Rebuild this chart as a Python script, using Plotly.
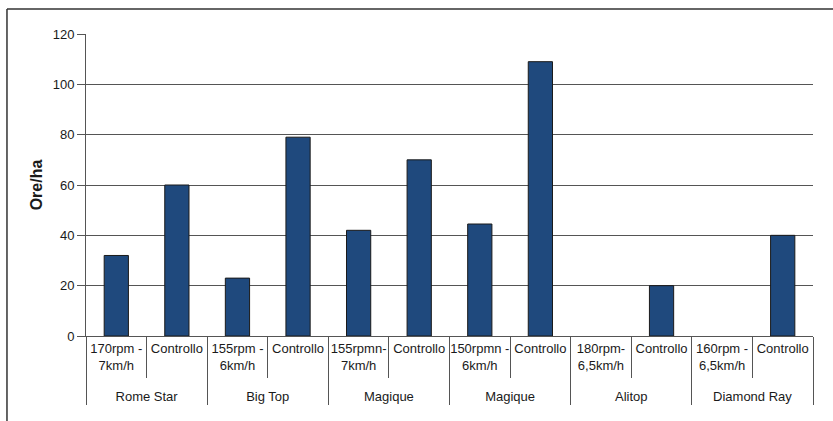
import plotly.graph_objects as go

ZW = "\u200b"
groups = ["Rome Star", "Rome Star", "Big Top", "Big Top", "Magique", "Magique",
          "Magique" + ZW, "Magique" + ZW, "Alitop", "Alitop", "Diamond Ray", "Diamond Ray"]
treatments = ["170rpm -<br>7km/h", "Controllo", "155rpm -<br>6km/h", "Controllo" + ZW,
              "155rpmn-<br>7km/h", "Controllo" + ZW * 2, "150rpmn -<br>6km/h", "Controllo" + ZW * 3,
              "180rpm-<br>6,5km/h", "Controllo" + ZW * 4, "160rpm -<br>6,5km/h", "Controllo" + ZW * 5]
ore_ha = [32, 60, 23, 79, 42, 70, 44.5, 109, None, 20, None, 40]
y_ticks = [0, 20, 40, 60, 80, 100, 120]

FONT = "Liberation Sans"

# blank spacer line under the first treatment label to push group labels down
treatments_shown = list(treatments)
treatments_shown[0] = treatments[0] + "<br><span style='font-size:7px'>\u00a0</span>"

fig = go.Figure()
fig.add_trace(go.Bar(
    x=[groups, treatments_shown], y=ore_ha,
    marker=dict(color="#1F497D", line=dict(color="#1a1a1a", width=1)),
    width=0.4,
))

fig.update_layout(
    width=833, height=421,
    margin=dict(l=86, r=20, t=34, b=85),
    paper_bgcolor="white", plot_bgcolor="white",
    showlegend=False,
    font=dict(family=FONT, size=13, color="#1a1a1a"),
    shapes=[
        dict(type="line", xref="paper", yref="paper", x0=-0.1087, x1=1.03, y0=1.083,
             y1=1.083, line=dict(color="#333", width=1.5)),
        dict(type="line", xref="paper", yref="paper", x0=-0.1087, x1=-0.1087, y0=1.083,
             y1=-0.3, line=dict(color="#333", width=1.5)),
    ],
)
fig.update_yaxes(
    range=[0, 120], tickvals=y_ticks, showgrid=True, gridcolor="#555", gridwidth=1,
    showline=True, linecolor="#555", linewidth=1, ticks="outside", ticklen=8,
    tickcolor="#555", zeroline=False, tickfont=dict(size=13),
    title=dict(text="<b>Ore/ha</b>", font=dict(size=16, family=FONT), standoff=6),
)
fig.update_xaxes(
    type="multicategory", showgrid=False, showline=True, linecolor="#555", linewidth=1,
    ticks="outside", tickson="boundaries", ticklen=41, tickcolor="#555", tickangle=0,
    tickfont=dict(size=13),
    showdividers=True, dividercolor="#555", dividerwidth=1,
)

fig.write_html("out.html")
